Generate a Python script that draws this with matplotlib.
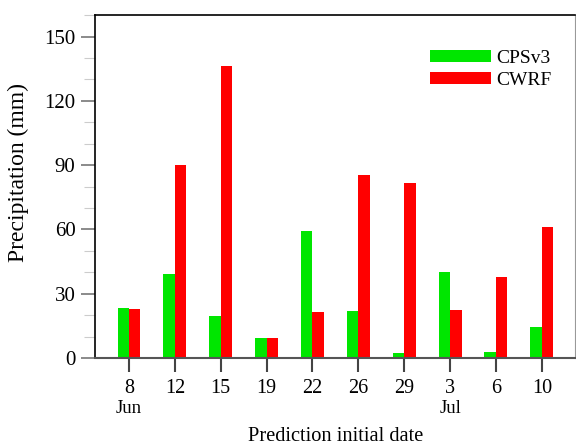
import numpy as np
import matplotlib
matplotlib.use("Agg")
import matplotlib.pyplot as plt
from matplotlib.ticker import MultipleLocator
from matplotlib.transforms import blended_transform_factory

plt.rcParams['font.family'] = ['Liberation Serif', 'DejaVu Serif']

# prediction initial dates (Jun 8 ... Jul 10)
dates = ['8', '12', '15', '19', '22', '26', '29', '3', '6', '10']
months = {0: 'Jun', 7: 'Jul'}
cpsv3 = [23.3, 39.0, 19.7, 9.4, 59.2, 22.0, 2.3, 39.9, 2.7, 14.7]
cwrf = [22.8, 90.2, 136.1, 9.3, 21.6, 85.5, 81.8, 22.4, 37.6, 61.0]

fig = plt.figure(figsize=(5.76, 4.45), dpi=100)
ax = fig.add_axes([0.165, 0.1955, 0.833, 0.7705])

x = np.arange(len(dates))
w = 0.25
ax.bar(x - w / 2, cpsv3, w, color='#00e600', label='CPSv3', zorder=2)
ax.bar(x + w / 2, cwrf, w, color='#ff0000', label='CWRF', zorder=2)

ax.set_xlim(-0.74, 9.72)
ax.set_ylim(0, 160)
ax.set_xticks(x)
ax.set_xticklabels(dates, fontsize=14.5)
ax.yaxis.set_major_locator(MultipleLocator(30))
ax.yaxis.set_minor_locator(MultipleLocator(10))
ax.tick_params(axis='y', which='major', length=10, width=1.2, color='#777777',
               labelsize=15, pad=4)
ax.tick_params(axis='y', which='minor', length=8, width=0.8, color='#cccccc')
ax.tick_params(axis='x', length=10, width=1.5, color='#444444', pad=5)

ax.spines['bottom'].set_color('#555555')
ax.spines['bottom'].set_linewidth(1.5)
ax.spines['left'].set_linewidth(1.2)
ax.spines['top'].set_linewidth(1.2)
ax.spines['right'].set_color('#999999')

# month names under the first date of each month
trans = blended_transform_factory(ax.transData, ax.transAxes)
for i, m in months.items():
    ax.text(i, -0.147, m, transform=trans, ha='center', va='center', fontsize=13.5)

fig.text(18 / 576, 1 - 172 / 445, 'Precipitation (mm)', rotation=90,
         ha='center', va='center', fontsize=17)
fig.text(336 / 576, 4 / 445, 'Prediction initial date', ha='center',
         va='baseline', fontsize=14.7)

ax.legend(loc='upper right', bbox_to_anchor=(0.988, 0.95), frameon=False,
          fontsize=14, handlelength=3.1, handleheight=0.55, handletextpad=0.3,
          labelspacing=0.25)

fig.savefig('out.png', dpi=100)
